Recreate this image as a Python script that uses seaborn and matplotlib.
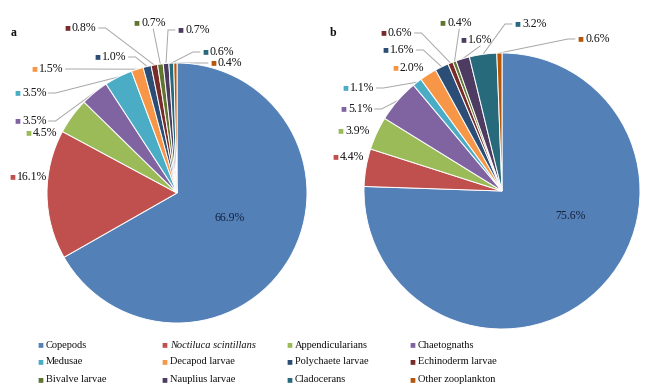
import numpy as np
import seaborn as sns
import matplotlib.pyplot as plt

# zooplankton groups, in the order the slices run clockwise from 12 o'clock
groups = ["Copepods", "Noctiluca scintillans", "Appendicularians", "Chaetognaths",
          "Medusae", "Decapod larvae", "Polychaete larvae", "Echinoderm larvae",
          "Bivalve larvae", "Nauplius larvae", "Cladocerans", "Other zooplankton"]
share_a = [66.9, 16.1, 4.5, 3.5, 3.5, 1.5, 1.0, 0.8, 0.7, 0.7, 0.6, 0.4]
share_b = [75.6, 4.4, 3.9, 5.1, 1.1, 2.0, 1.6, 0.6, 0.4, 1.6, 3.2, 0.6]
group_colors = ["#5480B8", "#C0504D", "#9BBB59", "#8064A2", "#4BACC6", "#F79646",
                "#2C4D75", "#772C2A", "#5F7530", "#4D3B62", "#276A7C", "#B65708"]

# label layout (pixel positions of the little colour squares) and leader style
# leader: None = no line, 'r' = from right end of text, 'l' = from left of square,
# 'd' = down from under the text
layout_a = [((230, 218), None), ((12, 177), None), ((28, 133), None), ((17, 121), 'r'),
            ((17, 93), 'r'), ((34, 69), 'r'), ((97, 57), 'r'), ((67, 28), 'r'),
            ((136, 23), 'd'), ((180, 30), 'l'), ((205, 52), 'l'), ((213, 63), 'l')]
layout_b = [((570, 216), None), ((335, 157), None), ((340, 131), None), ((343, 109), 'r'),
            ((345, 88), 'r'), ((395, 68), None), ((385, 50), 'r'), ((383, 33), 'r'),
            ((442, 23), 'd'), ((463, 40), 'd'), ((517, 24), 'l'), ((580, 39), 'l')]

sns.set_theme(style="white")
plt.rcParams['font.family'] = ['Liberation Serif', 'DejaVu Sans']

fig = plt.figure(figsize=(6.5, 3.9), dpi=100)
ax = fig.add_axes([0, 0, 1, 1])
palette = sns.color_palette(group_colors)
text_color = "#111111"


def draw_pie(values, center, radius, layout, letter, letter_pos):
    wedges, _ = ax.pie(values, colors=palette, startangle=-90, counterclock=True,
                       center=center, radius=radius,
                       wedgeprops=dict(edgecolor="white", linewidth=0.7))
    ax.text(*letter_pos, letter, fontsize=8.5, fontweight="bold", va="center", color=text_color)
    pct_texts = []
    for i, (w, v) in enumerate(zip(wedges, values)):
        (x, y), leader = layout[i]
        if i == 0:
            ax.text(x, y, f"{v:.1f}%", fontsize=8.5, ha="center", va="center", color="#14213d")
            pct_texts.append(None)
            continue
        ax.text(x, y, "■", fontsize=7, color=group_colors[i], ha="center", va="center")
        t = ax.text(x + 5, y, f"{v:.1f}%", fontsize=8.5, ha="left", va="center", color=text_color)
        pct_texts.append(t)
    return wedges, pct_texts


def draw_leaders(wedges, pct_texts, center, radius, layout):
    inv = ax.transData.inverted()
    renderer = fig.canvas.get_renderer()
    for i, w in enumerate(wedges):
        (x, y), leader = layout[i]
        if leader is None:
            continue
        mid = np.deg2rad((w.theta1 + w.theta2) / 2)
        ex = center[0] + radius * np.cos(mid)
        ey = center[1] + radius * np.sin(mid)
        bb = pct_texts[i].get_window_extent(renderer)
        (x0, _), (x1, _) = inv.transform([(bb.x0, bb.y0), (bb.x1, bb.y1)])
        if leader == 'r':
            pts = [(x1 + 2, y), (x1 + 9, y), (ex, ey)]
        elif leader == 'l':
            pts = [(x - 5, y), (x - 12, y), (ex, ey)]
        else:
            cx = (x0 + x1) / 2
            pts = [(cx, y + 6), (ex, ey)]
        px, py = zip(*pts)
        ax.plot(px, py, color="#A6A6A6", linewidth=0.7, zorder=0)


center_a, radius_a = (177, 193), 130
center_b, radius_b = (502, 191), 138
wedges_a, texts_a = draw_pie(share_a, center_a, radius_a, layout_a, "a", (11, 33))
wedges_b, texts_b = draw_pie(share_b, center_b, radius_b, layout_b, "b", (330, 33))

ax.set_xlim(0, 650)
ax.set_ylim(390, 0)
ax.axis("off")
fig.canvas.draw()
draw_leaders(wedges_a, texts_a, center_a, radius_a, layout_a)
draw_leaders(wedges_b, texts_b, center_b, radius_b, layout_b)

# legend, laid out as four columns by three rows
col_x = [40, 164, 289, 412]
row_y = [345, 362, 380]
for i, name in enumerate(groups):
    lx, ly = col_x[i % 4], row_y[i // 4]
    ax.text(lx, ly, "■", fontsize=7, color=group_colors[i], ha="center", va="center")
    ax.text(lx + 6, ly, name, fontsize=7.5, ha="left", va="center", color=text_color,
            style="italic" if name.startswith("Noctiluca") else "normal")

fig.savefig("out.png", dpi=100)
